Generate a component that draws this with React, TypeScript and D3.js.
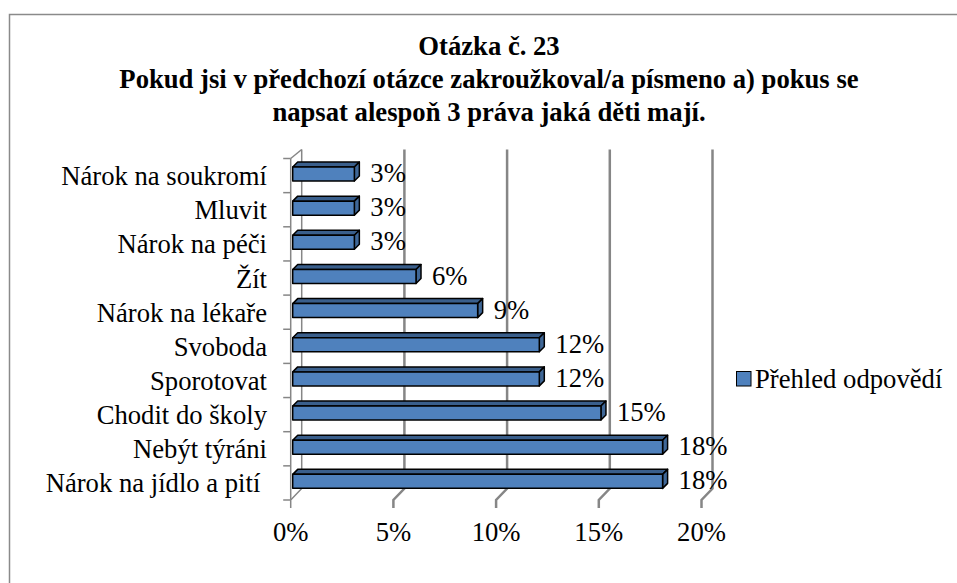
import { scaleBand, scaleLinear } from 'd3'

// values, top bar first
const categories = [
  'Nárok na soukromí',
  'Mluvit',
  'Nárok na péči',
  'Žít',
  'Nárok na lékaře',
  'Svoboda',
  'Sporotovat',
  'Chodit do školy',
  'Nebýt týráni',
  'Nárok na jídlo a pití ',
]
const values = [3, 3, 3, 6, 9, 12, 12, 15, 18, 18]
const ticks = [0, 5, 10, 15, 20]
const titleLines = [
  'Otázka č. 23',
  'Pokud jsi v předchozí otázce zakroužkoval/a písmeno a) pokus se',
  'napsat alespoň 3 práva jaká děti mají.',
]
const seriesName = 'Přehled odpovědí'

const App = () => {
  const width = 957
  const height = 583
  const font = "'Liberation Serif', 'Times New Roman', serif"
  const fs = 26.67

  // floor depth: back wall sits up-right of the front edge
  const dx = 11
  const dyTop = 9
  const dyBottom = 11.5

  const top = 158.5
  const bottom = 500

  let xFront = scaleLinear().domain([0, 20]).range([290.7, 701.5])
  let xBar = scaleLinear().domain([0, 20]).range([292.7, 703.7])
  let y = scaleBand().domain(categories).range([top, bottom]).paddingInner(0)
  const bw = y.bandwidth()

  const grid = '#868686'
  const blue = '#4F81BD'

  return (
    <svg width={width} height={height} style={{ display: 'block', position: 'absolute', left: 0, top: 0 }}>
      <rect x={0} y={0} width={width} height={height} fill='white' />
      <rect x={9.5} y={14.5} width={1200} height={1200} fill='none' stroke='#8a8a8a' strokeWidth={1.5} />

      {titleLines.map((t, i) => (
        <text key={i} x={489} y={55 + i * 33} textAnchor='middle' fontFamily={font} fontWeight='bold' fontSize={fs}>
          {t}
        </text>
      ))}

      {/* back gridlines with their floor diagonals and front ticks */}
      {ticks.map((t) => {
        const xf = xFront(t)
        const xb = xf + dx
        return (
          <g key={t}>
            <polyline
              points={`${xb},${top - dyTop} ${xb},${bottom - dyBottom} ${xf},${bottom} ${xf},${bottom + 8}`}
              fill='none'
              stroke={grid}
              strokeWidth={t === 0 ? 1.5 : 2.5}
            />
            <text x={xf} y={541} textAnchor='middle' fontFamily={font} fontSize={fs}>
              {t}%
            </text>
          </g>
        )
      })}

      {/* left axis */}
      <line x1={xFront(0)} y1={top} x2={xFront(0)} y2={bottom} stroke={grid} strokeWidth={1.5} />
      <line x1={xFront(0)} y1={top} x2={xFront(0) + dx} y2={top - dyTop} stroke={grid} strokeWidth={1.5} />
      {[...categories.map((c) => y(c)), bottom].map((v, i) => (
        <line key={i} x1={xFront(0) - 7.5} y1={v} x2={xFront(0)} y2={v} stroke={grid} strokeWidth={1.5} />
      ))}

      {categories.map((c) => (
        <text
          key={c}
          x={267}
          y={y(c) + bw / 2 + 9.5}
          textAnchor='end'
          fontFamily={font}
          fontSize={fs}
          style={{ whiteSpace: 'pre' }}
        >
          {c}
        </text>
      ))}

      {/* 3d bars */}
      {categories.map((c, i) => {
        const y0 = y(c)
        const x0 = xBar(0)
        const x1 = xBar(values[i])
        const ft = y0 + 8.5
        const fb = y0 + 22.5
        const d = 5
        return (
          <g key={c} stroke='black' strokeWidth={1.5} strokeLinejoin='round'>
            <polygon points={`${x0},${ft} ${x0 + d},${ft - d} ${x1 + d},${ft - d} ${x1},${ft}`} fill='#3A5F8C' />
            <polygon points={`${x1},${ft} ${x1 + d},${ft - d} ${x1 + d},${fb - d} ${x1},${fb}`} fill='#3F6797' />
            <rect x={x0} y={ft} width={x1 - x0} height={fb - ft} fill={blue} />
            <text
              x={x1 + 16}
              y={y0 + bw / 2 + 6.5}
              stroke='none'
              fill='black'
              fontFamily={font}
              fontSize={fs}
            >
              {values[i]}%
            </text>
          </g>
        )
      })}

      {/* legend */}
      <rect x={736.5} y={371.5} width={14.5} height={14.5} fill={blue} stroke='black' strokeWidth={1} />
      <text x={755} y={388} fontFamily={font} fontSize={fs}>
        {seriesName}
      </text>
    </svg>
  )
}

export default App
